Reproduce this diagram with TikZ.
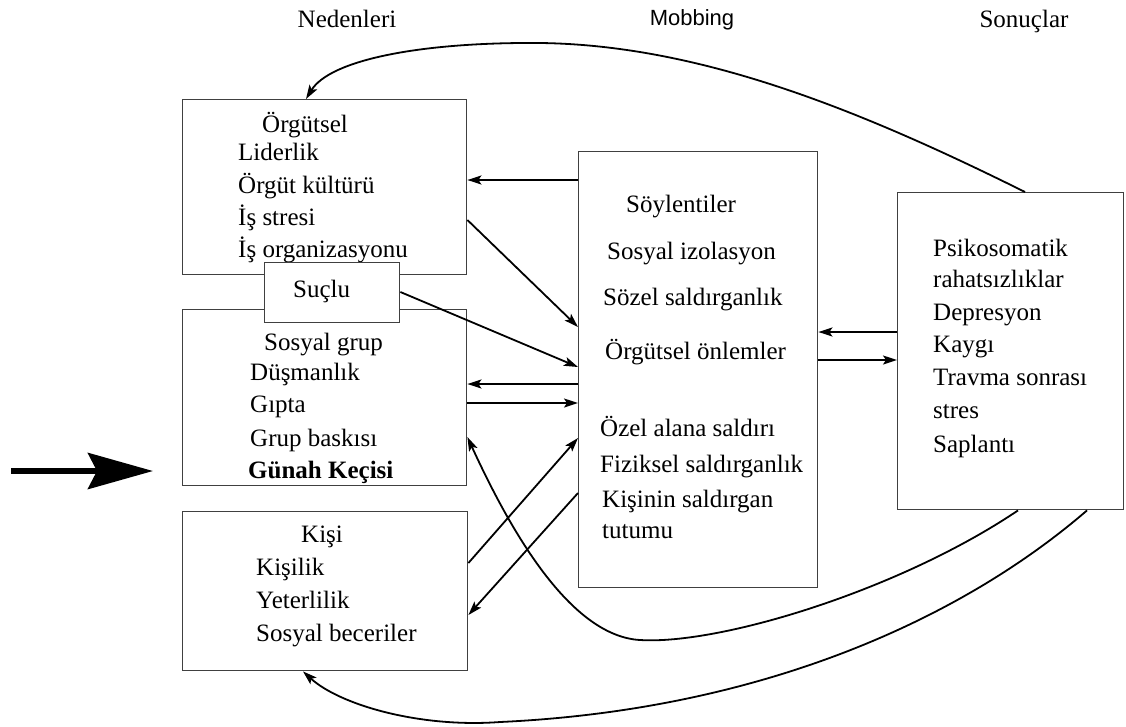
\documentclass[tikz,border=0pt]{standalone}
\usepackage{fontspec}
\setmainfont{Liberation Serif}
\newfontfamily\headsans{Liberation Sans}
\usetikzlibrary{arrows.meta}
\begin{document}
\begin{tikzpicture}[x=1pt,y=-1pt,
  box/.style={draw=black!75, line width=1.4pt, inner sep=0pt, anchor=north west},
  txt/.style={anchor=base west, inner sep=0pt, font=\fontsize{25}{30}\selectfont},
  head/.style={anchor=base, inner sep=0pt, font=\fontsize{25}{30}\selectfont},
  arr/.style={-{Stealth[length=14pt,width=9pt,inset=3pt]}, line width=1.8pt},
  bigarr/.style={-{Stealth[length=65pt,width=36pt,inset=9pt]}, line width=6pt},
]
\useasboundingbox (0,0) rectangle (1126,726);

% headers
\node[head] (h1) at (347,27) {Nedenleri};
\node[head, font=\headsans\fontsize{22}{26}\selectfont] (h2) at (692,25) {Mobbing};
\node[head] (h3) at (1024,27) {Sonuçlar};

% boxes
\node[box, minimum width=284pt, minimum height=175pt] (org) at (182,99) {};
\node[box, minimum width=284pt, minimum height=176pt] (sos) at (182,309) {};
\node[box, minimum width=285pt, minimum height=159pt] (kisi) at (182,511) {};
\node[box, minimum width=239pt, minimum height=436pt] (mob) at (578,151) {};
\node[box, minimum width=226pt, minimum height=317pt] (son) at (897,192) {};

% Örgütsel texts
\node[txt] (o1) at (262,132) {Örgütsel};
\node[txt] (o2) at (238,160) {Liderlik};
\node[txt] (o3) at (238,193) {Örgüt kültürü};
\node[txt] (o4) at (238,225) {İş stresi};
\node[txt] (o5) at (238,257) {İş organizasyonu};

% Suçlu box (covers the box edges)
\node[box, fill=white, minimum width=135pt, minimum height=60pt] (suclu) at (264,262) {};
\node[txt] (s0) at (293,297) {Suçlu};

% Sosyal grup texts
\node[txt] (g1) at (264,350) {Sosyal grup};
\node[txt] (g2) at (250,380) {Düşmanlık};
\node[txt] (g3) at (250,412) {Gıpta};
\node[txt] (g4) at (250,446) {Grup baskısı};
\node[txt, font=\fontsize{25}{30}\selectfont\bfseries] (g5) at (248,478) {Günah Keçisi};

% Kişi texts
\node[txt] (k1) at (301,542) {Kişi};
\node[txt] (k2) at (256,575) {Kişilik};
\node[txt] (k3) at (256,608) {Yeterlilik};
\node[txt] (k4) at (256,641) {Sosyal beceriler};

% Mobbing texts
\node[txt] (m1) at (626,212) {Söylentiler};
\node[txt] (m2) at (607,259) {Sosyal izolasyon};
\node[txt] (m3) at (603,305) {Sözel saldırganlık};
\node[txt] (m4) at (605,359) {Örgütsel önlemler};
\node[txt] (m5) at (600,436) {Özel alana saldırı};
\node[txt] (m6) at (600,472) {Fiziksel saldırganlık};
\node[txt] (m7) at (602,507) {Kişinin saldırgan};
\node[txt] (m8) at (602,538) {tutumu};

% Sonuçlar texts
\node[txt] (r1) at (933,256) {Psikosomatik};
\node[txt] (r2) at (933,287) {rahatsızlıklar};
\node[txt] (r3) at (933,320) {Depresyon};
\node[txt] (r4) at (933,352) {Kaygı};
\node[txt] (r5) at (933,385) {Travma sonrası};
\node[txt] (r6) at (933,418) {stres};
\node[txt] (r7) at (933,452) {Saplantı};

% straight connectors
\draw[arr] (mob.west |- 0,180) -- (org.east |- 0,180);
\draw[arr] (org.east |- 0,220) -- (mob.west |- 0,327);
\draw[arr] (suclu.east |- 0,292) -- (mob.west |- 0,367);
\draw[arr] (mob.west |- 0,384) -- (sos.east |- 0,384);
\draw[arr] (sos.east |- 0,403) -- (mob.west |- 0,403);
\draw[arr] (son.west |- 0,332) -- (mob.east |- 0,332);
\draw[arr] (mob.east |- 0,360) -- (son.west |- 0,360);
\draw[arr] (kisi.east |- 0,563) -- (mob.west |- 0,438);
\draw[arr] (mob.west |- 0,493) -- (kisi.east |- 0,615);

% curved connectors
\draw[arr] (son.south -| 1018,0) .. controls (900,590) and (720,645) .. (640,640)
  .. controls (570,636) and (510,530) .. (sos.east |- 0,437);
\draw[arr] (son.south -| 1087,0) .. controls (960,620) and (760,710) .. (500,722)
  .. controls (420,728) and (340,705) .. (kisi.south -| 303,0);
\draw[arr] (son.north -| 1025,0) .. controls (860,110) and (700,45) .. (540,43)
  .. controls (420,42) and (330,60) .. (org.north -| 306,0);

% big input arrow
\coordinate (bigstart) at (11,471);
\coordinate (bigtip) at (153,471);
\draw[bigarr] (bigstart) -- (bigtip);
\end{tikzpicture}
\end{document}
